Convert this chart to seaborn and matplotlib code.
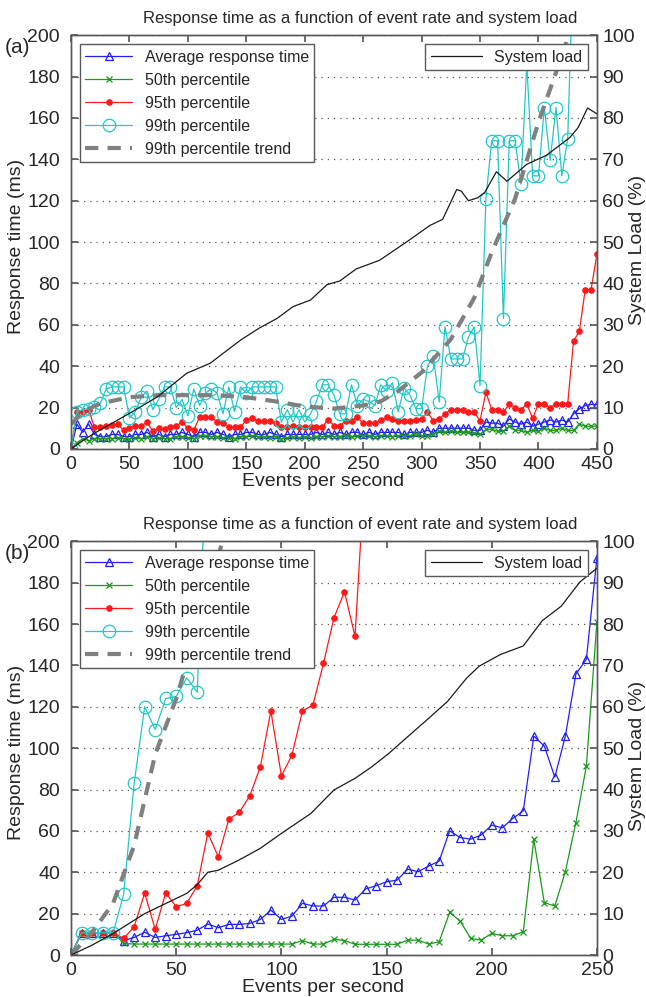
import numpy as np
import matplotlib
matplotlib.use("Agg")
import matplotlib.pyplot as plt
import seaborn as sns

sns.set_theme(style="ticks")
plt.rcParams['font.family'] = ['Liberation Sans', 'DejaVu Sans']

TITLE = 'Response time as a function of event rate and system load'

# ---------------- panel (a) data ----------------
rate_a = np.arange(0, 455, 5)

avg_a = [0, 12, 8, 12, 7, 6, 6, 7, 7, 6,
         6, 7, 7, 8, 6, 7, 6, 7, 7, 8,
         7, 6, 8, 8, 7, 8, 7, 6, 7, 7,
         8, 8, 7, 7, 8, 7, 6, 7, 7, 7,
         7, 7, 8, 7, 8, 7, 8, 7, 8, 8,
         7, 8, 7, 8, 8, 8, 8, 7, 8, 8,
         8, 9, 8, 10, 10, 10, 10, 10, 10, 9,
         9, 13, 12.5, 12.5, 11, 14.5, 13, 12, 13, 11,
         12, 13, 14, 13, 14, 13, 17, 19.4, 21, 21.5,
         21.5]

p50_a = [0, 3, 5, 4, 5, 5, 5, 5, 5.5, 5,
         5, 5.5, 5, 6, 5, 5.5, 5, 5, 6, 6,
         5.5, 5, 6.5, 6.5, 6, 6, 5.5, 5.5, 5, 6,
         6, 6.5, 6, 6, 5.5, 6, 5, 5.5, 6, 5.5,
         6, 5.5, 6, 6, 6.5, 6, 6, 6.5, 6, 6.5,
         6.5, 6.5, 6, 6.5, 6.5, 6, 6.5, 6.5, 6.5, 7,
         6.5, 6.5, 7, 8.5, 8, 8.5, 8, 8, 8, 7.5,
         7, 9.5, 9.5, 8.5, 8.5, 11, 9, 9, 8, 9,
         8.5, 10, 9, 9, 10, 9, 9, 12, 11, 11,
         11]

p95_a = [0, 18, 18, 19, 10.5, 10.5, 11.3, 11.5, 12, 9,
         10, 11, 11, 13, 8.5, 10, 9.5, 10.5, 11, 13,
         10, 9, 15.5, 15.5, 15.5, 13, 12.6, 10.5, 10.5, 10.5,
         14, 15, 13.4, 13.4, 13.4, 12.6, 10.5, 10.5, 11, 10.5,
         10.8, 10.8, 10.8, 10.8, 14, 11.3, 11.3, 13.7, 13.7, 15.3,
         12.4, 12.4, 12.4, 14, 15.3, 14.5, 13.7, 13.7, 13.7, 14,
         14.5, 17.7, 13.7, 14.5, 17, 19, 19, 19, 17.7, 17.7,
         13.7, 27.4, 19, 19, 17.7, 21.8, 20, 19, 21.8, 14.8,
         21.8, 21.8, 20, 21.8, 21.8, 21.8, 52, 57, 77, 77,
         94]

p99_a = [0, 18, 19, 19.5, 20.4, 22, 29, 30, 30, 30,
         15, 18, 25, 28, 19, 24, 30, 30, 20, 24,
         16, 29, 21, 27, 29, 27, 17, 30, 18, 30,
         27, 30, 30, 30, 30, 30, 13, 19, 13, 19,
         13, 17, 23, 31, 31, 26, 17, 17, 31, 21,
         24, 23, 21, 31, 28, 32, 18, 29.5, 26, 19.5,
         19.5, 40, 45, 22.6, 59, 43.5, 43.5, 43.5, 54, 59,
         30.6, 121, 149, 149, 63, 149, 149, 128, 186, 132,
         132, 165, 139.5, 165, 132, 150, 240, 250, 250, 250,
         250]

trend_x_a = [0, 10, 25, 50, 75, 100, 125, 150, 175, 200, 225, 250, 265,
             280, 300, 325, 345, 360, 380, 400, 420, 435]
trend_a = [12, 18, 22, 25, 26, 26, 26, 25, 23, 20.5, 19.5, 21, 23,
           28, 37, 53, 73, 95, 121, 158, 190, 215]

load_x_a = [0, 10, 20, 50, 74, 99, 119, 145, 161, 176, 190, 205, 219, 230,
            244, 264, 287, 307, 318, 330, 334, 340, 348, 354, 364, 373,
            390, 407, 427, 434, 442, 450]
load_a = [0, 2, 3.8, 8.6, 12.6, 18.3, 20.7, 26.3, 29.2, 31.5, 34.4, 36, 39.7, 40.6,
          43.5, 45.6, 50, 54, 55.5, 62.7, 62.3, 60, 60.7, 62, 67, 64.7,
          68.8, 71, 75.3, 77.7, 82.4, 81]

# ---------------- panel (b) data ----------------
rate_b = np.arange(0, 255, 5)

avg_b = [0, 10.8, 10.8, 10.8, 10.8, 7, 8.5, 11, 8.5, 9.3,
         10, 10.8, 12, 15, 13.2, 14.8, 14.8, 15.3, 17.2, 21.7,
         17.2, 18.8, 25, 23.7, 23.7, 27.9, 27.9, 26.6, 31.9, 33.5,
         35.4, 36.2, 41.5, 40.3, 43, 45.4, 60, 56.8, 56, 58,
         62.8, 61.5, 66, 69.7, 105.8, 101, 86, 105.8, 135.8, 143,
         192]

p50_b = [0, 10.8, 10.8, 10.8, 10.8, 5.6, 5.3, 5.3, 5.3, 5.3,
         5.3, 5.3, 5.3, 5.3, 5.3, 5.3, 5.3, 5.3, 5.3, 5.3,
         5.3, 5.3, 7, 5.3, 5.3, 7.6, 7, 5.2, 5.2, 5.2,
         5.2, 5.2, 7.2, 7.2, 5.3, 6.4, 20.6, 16.4, 8, 7.2,
         10.5, 9.3, 9.3, 11.3, 55.9, 25.3, 23.7, 40.3, 64, 91.3,
         161]

rate95_b = np.arange(0, 145, 5)
p95_b = [0, 10.8, 10.8, 10.8, 10.8, 8, 13.7, 30, 12.4, 30,
         23.3, 25, 33.5, 59, 47.5, 65.7, 69, 77, 91, 118,
         86.6, 96.6, 118, 120.8, 141, 163, 175.6, 154, 240]

rate99_b = np.arange(0, 70, 5)
p99_b = [0, 10.8, 10.8, 10.8, 10.8, 29.3, 83, 120, 109, 124,
         125, 134, 127, 260]

trend_x_b = [0, 10, 20, 30, 40, 50, 60, 72, 76]
trend_b = [0, 11, 25, 53, 97, 124, 158, 200, 212]

load_x_b = [0, 10, 20, 35, 55, 60, 65, 70, 80, 90, 100, 114, 125, 135, 143,
            151, 159, 170, 179, 188, 194, 204, 215, 224, 233, 242, 250]
load_b = [0, 2.4, 5.2, 10, 14.9, 17, 20, 20.5, 23, 25.8, 29.4, 34.2, 39.9, 42.7,
          45.5, 48.7, 52.3, 57.2, 61.3, 66.9, 69.8, 72.6, 74.7, 80.8, 84.3, 90.2, 93.5]

BLUE, GREEN, RED, CYAN = '#1f1fff', '#1a9a1a', '#ff1a1a', '#22c8c8'
EDGE = '0.35'
TICK_FS, LABEL_FS, LEG_FS = 14, 14, 11.5


def draw_panel(ax, tag, xmax, rate, avg, p50, r95, p95, r99, p99, tx, tr, lx, ld):
    sns.lineplot(x=rate, y=avg, ax=ax, color=BLUE, lw=0.9, marker='^', markersize=6,
                 markerfacecolor='none', markeredgecolor=BLUE, markeredgewidth=0.9,
                 label='Average response time')
    sns.lineplot(x=rate, y=p50, ax=ax, color=GREEN, lw=0.9, marker='x', markersize=4,
                 markeredgecolor=GREEN, markeredgewidth=0.9, label='50th percentile')
    sns.lineplot(x=r95, y=p95, ax=ax, color=RED, lw=0.9, marker='o', markersize=4,
                 markerfacecolor=RED, markeredgecolor=RED, label='95th percentile')
    sns.lineplot(x=r99, y=p99, ax=ax, color=CYAN, lw=0.9, marker='o', markersize=9,
                 markerfacecolor='none', markeredgecolor=CYAN, markeredgewidth=0.9,
                 label='99th percentile')
    sns.lineplot(x=tx, y=tr, ax=ax, color='0.5', lw=3, dashes=False,
                 label='99th percentile trend').lines[-1].set_dashes((3.2, 2.2))

    ax.set_xlim(0, xmax)
    ax.set_ylim(0, 200)
    ax.set_yticks(np.arange(0, 201, 20))
    ax.set_xticks(np.arange(0, xmax + 1, 50))
    ax.yaxis.grid(True, linestyle=(0, (1, 4)), color='0.35', linewidth=0.9)
    ax.xaxis.grid(False)
    ax.tick_params(direction='in', top=True, length=5, labelsize=TICK_FS, color=EDGE)
    ax.tick_params(axis='y', pad=8)
    ax.tick_params(axis='x', pad=5)
    ax.set_xlabel('Events per second', fontsize=LABEL_FS)
    ax.xaxis.set_label_coords(0.479, -0.058)
    ax.set_ylabel('Response time (ms)', fontsize=LABEL_FS)
    ax.yaxis.set_label_coords(-0.088, 0.49)
    ax.set_title(TITLE, fontsize=12, x=0.549, pad=9)
    ax.legend(loc='upper left', fontsize=LEG_FS, frameon=True, fancybox=False,
              edgecolor=EDGE, framealpha=1, handlelength=2.9, labelspacing=0.5,
              borderaxespad=0.55, borderpad=0.35)

    ax2 = ax.twinx()
    sns.lineplot(x=lx, y=ld, ax=ax2, color='0.1', lw=0.9, label='System load')
    ax2.set_ylim(0, 100)
    ax2.set_yticks(np.arange(0, 101, 10))
    ax2.tick_params(direction='in', length=5, labelsize=TICK_FS, color=EDGE, pad=4)
    ax2.set_ylabel('System Load (%)', fontsize=LABEL_FS)
    ax2.yaxis.set_label_coords(1.061, 0.48)
    ax2.legend(loc='upper right', fontsize=LEG_FS, frameon=True, fancybox=False,
               edgecolor=EDGE, framealpha=1, handlelength=3.2,
               borderaxespad=0.55, borderpad=0.35)
    for a in (ax, ax2):
        for s in a.spines.values():
            s.set_color(EDGE)
            s.set_linewidth(1)
    ax.figure.text(0.008, ax.get_position().y1 - 0.012, tag, fontsize=15,
                   ha='left', va='center')


fig = plt.figure(figsize=(6.46, 9.97), dpi=100)
ax_a = fig.add_axes([0.110, 0.5497, 0.814, 0.415])
ax_b = fig.add_axes([0.110, 0.0421, 0.814, 0.415])

draw_panel(ax_a, '(a)', 450, rate_a, avg_a, p50_a, rate_a, p95_a, rate_a, p99_a,
           trend_x_a, trend_a, load_x_a, load_a)
draw_panel(ax_b, '(b)', 250, rate_b, avg_b, p50_b, rate95_b, p95_b, rate99_b, p99_b,
           trend_x_b, trend_b, load_x_b, load_b)

fig.savefig('out.png', dpi=100)
